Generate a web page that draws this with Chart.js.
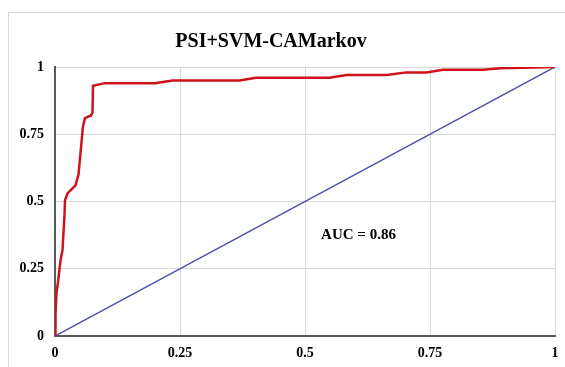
<!DOCTYPE html>
<html>
<head>
<meta charset="utf-8">
<script src="https://cdn.jsdelivr.net/npm/chart.js@4"></script>
<style>
html,body{margin:0;padding:0;background:#fff;}
#wrap{position:relative;width:565px;height:367px;}
</style>
</head>
<body>
<div id="wrap"><canvas id="c" width="565" height="367"></canvas></div>
<script>
const chartTitle = "PSI+SVM-CAMarkov";
const aucLabel = "AUC = 0.86";
const tickValues = [0, 0.25, 0.5, 0.75, 1];
const rocX = [0, 0.001, 0.003, 0.006, 0.011, 0.015, 0.019, 0.02, 0.025, 0.033, 0.041, 0.047, 0.051, 0.056, 0.06, 0.072, 0.075, 0.076, 0.10, 0.12, 0.20, 0.235, 0.369, 0.402, 0.549, 0.583, 0.663, 0.703, 0.743, 0.776, 0.856, 0.89, 1];
const rocY = [0, 0.08, 0.16, 0.2, 0.28, 0.32, 0.45, 0.505, 0.53, 0.545, 0.56, 0.6, 0.68, 0.78, 0.81, 0.82, 0.83, 0.93, 0.94, 0.94, 0.94, 0.95, 0.95, 0.96, 0.96, 0.97, 0.97, 0.98, 0.98, 0.99, 0.99, 0.995, 1];
const refX = [0, 1];
const refY = [0, 1];
const aucPos = [0.607, 0.375];

const fontFam = "'Liberation Serif','Times New Roman',serif";

const decor = {
  id: 'decor',
  beforeDraw(chart) {
    const ctx = chart.ctx;
    ctx.save();
    ctx.strokeStyle = '#d9d9d9';
    ctx.lineWidth = 1;
    ctx.strokeRect(8.5, 12.5, 600, 400);
    ctx.restore();
  },
  afterDraw(chart) {
    const ctx = chart.ctx;
    ctx.save();
    ctx.fillStyle = '#000';
    ctx.font = 'bold 20px ' + fontFam;
    ctx.textAlign = 'center';
    ctx.textBaseline = 'alphabetic';
    ctx.fillText(chartTitle, 271, 47);
    const xs = chart.scales.x, ys = chart.scales.y;
    ctx.font = 'bold 15px ' + fontFam;
    ctx.textBaseline = 'middle';
    ctx.fillText(aucLabel, xs.getPixelForValue(aucPos[0]), ys.getPixelForValue(aucPos[1]));
    ctx.restore();
  }
};

new Chart(document.getElementById('c'), {
  type: 'scatter',
  data: {
    datasets: [
      {
        data: rocX.map((x, i) => ({x, y: rocY[i]})),
        showLine: true, borderColor: '#d0121b', borderWidth: 2.5,
        pointRadius: 0, tension: 0, order: 1
      },
      {
        data: refX.map((x, i) => ({x, y: refY[i]})),
        showLine: true, borderColor: '#4a4fb0', borderWidth: 1.5,
        pointRadius: 0, tension: 0, order: 2
      }
    ]
  },
  options: {
    responsive: false,
    animation: false,
    layout: { padding: { left: 0, right: 10, top: 67, bottom: 0 } },
    plugins: { legend: { display: false }, tooltip: { enabled: false }, title: { display: false } },
    scales: {
      x: {
        type: 'linear', min: 0, max: 1,
        afterBuildTicks(s) { s.ticks = tickValues.map(v => ({value: v})); },
        afterFit(s) { s.height = 31; s.paddingLeft = 0; s.paddingRight = 0; },
        grid: { color: '#d9d9d9', lineWidth: 1, drawTicks: false },
        border: { color: '#595959', width: 2 },
        ticks: { padding: 9, color: '#000', font: { family: fontFam, size: 14, weight: 'bold' }, maxRotation: 0,
          callback: v => String(v) }
      },
      y: {
        type: 'linear', min: 0, max: 1,
        afterBuildTicks(s) { s.ticks = tickValues.map(v => ({value: v})); },
        afterFit(s) { s.width = 55; s.paddingTop = 0; s.paddingBottom = 0; },
        grid: { color: '#d9d9d9', lineWidth: 1, drawTicks: false },
        border: { color: '#595959', width: 2 },
        ticks: { padding: 11, color: '#000', font: { family: fontFam, size: 14, weight: 'bold' },
          callback: v => String(v) }
      }
    }
  },
  plugins: [decor]
});
</script>
</body>
</html>
